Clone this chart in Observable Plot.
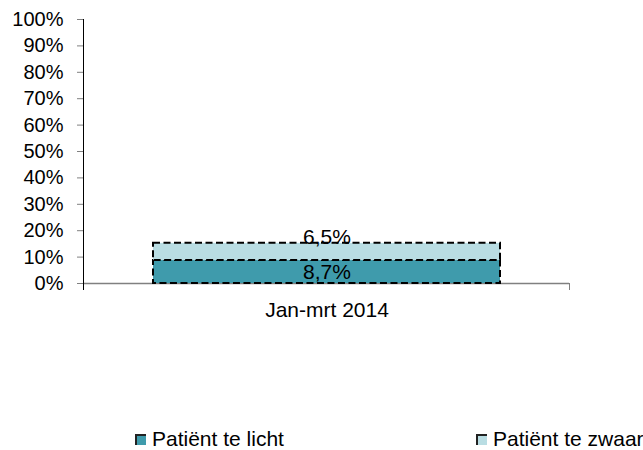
<!DOCTYPE html>
<html>
<head>
<meta charset="utf-8">
<script src="https://cdn.jsdelivr.net/npm/d3@7"></script>
<script src="https://cdn.jsdelivr.net/npm/@observablehq/plot@0.6"></script>
<style>
  body { margin: 0; background: #fff; font-family: "Liberation Sans", Arial, sans-serif; }
  #chart { position: relative; width: 643px; height: 450px; overflow: hidden; }
  .legend { position: absolute; top: 427px; font-size: 21px; line-height: 24px; color: #000; display: flex; align-items: center; white-space: nowrap; }
  .sw { width: 9px; height: 9px; margin-right: 6px; border-top: 2px solid #222; border-left: 2px solid #222; }
</style>
</head>
<body>
<div id="chart"></div>
<script>
const periods = ["Jan-mrt 2014"];
const series = ["Patiënt te licht", "Patiënt te zwaar"];
const seriesValues = [[8.7], [6.5]];
const seriesLabels = [["8,7%"], ["6,5%"]];
const colors = ["#3f9bac", "#b9dde3"];
const yTicks = [0, 10, 20, 30, 40, 50, 60, 70, 80, 90, 100];
const legendLeft = [135, 476];

const data = series.flatMap((s, i) => periods.map((p, j) => ({
  series: s, period: p, value: seriesValues[i][j], label: seriesLabels[i][j]
})));

const W = 643, H = 330, mT = 19, mB = 47, mL = 83, mR = 74;
const innerH = H - mT - mB;

const plot = Plot.plot({
  width: W, height: H,
  marginTop: mT, marginBottom: mB, marginLeft: mL, marginRight: mR,
  style: { fontFamily: "Liberation Sans, Arial, sans-serif", fontSize: "21px", color: "#000", background: "#fff", overflow: "visible" },
  x: { type: "band", domain: periods, padding: 0.167, label: null },
  y: { domain: [0, 100], label: null },
  color: { domain: series, range: colors },
  marks: [
    Plot.ruleY([0], { stroke: "#808080", strokeWidth: 1.5 }),
    Plot.frame({ anchor: "left", stroke: "#000", insetBottom: -6 }),
    Plot.frame({ anchor: "right", stroke: "#808080", insetTop: innerH, insetBottom: -6 }),
    Plot.axisY({ ticks: yTicks, tickFormat: d => d + "%", tickSize: 6, tickPadding: 14, fontSize: 20, stroke: "#808080", fill: "#000" }),
    Plot.axisX({ tickSize: 0, tickPadding: 19, fontSize: 21, fill: "#000" }),
    Plot.barY(data, Plot.stackY({ x: "period", y: "value", fill: "series", stroke: "#000", strokeWidth: 2, strokeDasharray: "7,3.5" })),
    Plot.text(data, Plot.stackY({ x: "period", y: "value", text: d => d.series === series[0] ? d.label : "", fontSize: 21, fill: "#000" })),
    Plot.text(data, Plot.stackY2({ x: "period", y: "value", text: d => d.series === series[1] ? d.label : "", dy: -6, fontSize: 21, fill: "#000" }))
  ]
});

const chart = document.getElementById("chart");
chart.appendChild(plot);
series.forEach((s, i) => {
  const item = document.createElement("div");
  item.className = "legend";
  item.style.left = legendLeft[i] + "px";
  const sw = document.createElement("span");
  sw.className = "sw";
  sw.style.background = colors[i];
  const t = document.createElement("span");
  t.textContent = s;
  item.appendChild(sw);
  item.appendChild(t);
  chart.appendChild(item);
});
</script>
</body>
</html>
